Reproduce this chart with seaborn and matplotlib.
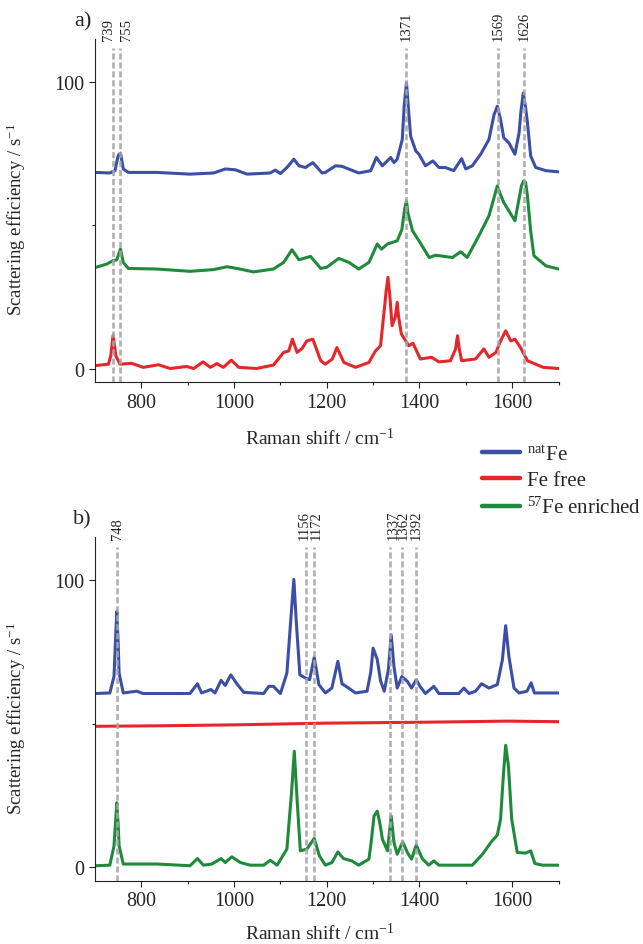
import pandas as pd
import matplotlib
matplotlib.use('Agg')
import matplotlib.pyplot as plt
import seaborn as sns

sns.set_style('ticks')
plt.rcParams['font.family'] = ['Liberation Serif', 'DejaVu Serif']
plt.rcParams['mathtext.fontset'] = 'custom'
plt.rcParams['mathtext.rm'] = 'Liberation Serif'
plt.rcParams['mathtext.it'] = 'Liberation Serif:italic'

# spectra: (Raman shift / cm-1, scattering efficiency)
a_nat = [(700, 68.4), (732, 68.2), (743, 69.0), (750, 74.2), (755, 75.1), (761, 69.6), (772, 68.4),
         (833, 68.4), (905, 67.8), (956, 68.2), (981, 69.6), (1003, 69.3), (1028, 67.8), (1078, 68.2),
         (1089, 69.2), (1100, 68.0), (1114, 70.1), (1129, 73.0), (1140, 70.7), (1154, 70.1), (1170, 71.8),
         (1190, 68.2), (1197, 68.4), (1219, 70.7), (1233, 70.5), (1269, 68.2), (1295, 69.0), (1307, 73.6),
         (1320, 70.7), (1338, 73.6), (1345, 71.8), (1352, 73.0), (1363, 79.9), (1367, 91.4), (1372, 99.6),
         (1377, 89.1), (1381, 81.0), (1392, 75.9), (1399, 74.7), (1413, 70.7), (1429, 72.4), (1442, 70.1),
         (1456, 70.1), (1474, 69.0), (1491, 73.2), (1500, 69.6), (1514, 70.7), (1532, 74.7), (1550, 79.9),
         (1561, 88.5), (1568, 91.4), (1575, 86.8), (1582, 80.4), (1593, 78.7), (1606, 74.7), (1615, 82.2),
         (1619, 89.7), (1624, 96.0), (1629, 91.0), (1633, 85.7), (1640, 74.1), (1651, 70.1), (1673, 69.0),
         (1700, 68.6)]
a_free = [(700, 1.2), (729, 1.7), (734, 4.6), (739, 11.7), (745, 4.6), (754, 1.7), (779, 2.0), (804, 0.6),
          (837, 1.5), (862, 0.2), (898, 0.9), (913, 0.2), (933, 2.5), (949, 0.6), (963, 1.9), (977, 0.6),
          (994, 3.1), (1010, 0.6), (1049, 0.2), (1085, 1.4), (1107, 5.8), (1118, 6.3), (1126, 10.4),
          (1136, 5.8), (1147, 7.2), (1157, 9.8), (1170, 10.4), (1187, 2.9), (1197, 1.7), (1212, 3.5),
          (1222, 7.5), (1237, 2.3), (1262, 0.6), (1291, 2.3), (1305, 6.3), (1316, 8.1), (1325, 22.0),
          (1328, 26.9), (1332, 31.9), (1336, 25.7), (1341, 15.1), (1348, 18.2), (1352, 23.2), (1355, 18.2),
          (1361, 12.2), (1377, 8.1), (1386, 9.0), (1402, 3.5), (1426, 4.1), (1442, 2.5), (1467, 2.9),
          (1478, 7.0), (1482, 11.6), (1486, 7.0), (1491, 2.9), (1521, 3.5), (1539, 7.0), (1550, 4.1),
          (1565, 5.8), (1575, 9.8), (1586, 13.3), (1597, 9.8), (1606, 10.4), (1618, 7.5), (1633, 2.9),
          (1667, 0.6), (1700, 0.2)]
a_57 = [(700, 35.3), (725, 36.5), (739, 37.7), (747, 38.0), (755, 41.7), (761, 37.1), (772, 35.0),
        (833, 34.8), (905, 34.0), (956, 34.6), (985, 35.6), (1006, 35.0), (1042, 33.8), (1085, 34.8),
        (1107, 37.1), (1125, 41.5), (1140, 38.0), (1165, 39.2), (1187, 35.0), (1200, 35.4), (1226, 38.5),
        (1248, 37.1), (1269, 34.8), (1291, 37.1), (1309, 43.5), (1318, 41.7), (1331, 43.5), (1352, 44.6),
        (1362, 48.5), (1368, 55.6), (1372, 58.5), (1375, 54.4), (1385, 48.1), (1399, 44.6), (1421, 38.8),
        (1435, 39.6), (1471, 38.8), (1489, 40.8), (1503, 38.8), (1528, 46.3), (1550, 53.3), (1565, 62.0),
        (1568, 63.7), (1573, 61.4), (1582, 57.9), (1593, 55.0), (1606, 51.6), (1616, 60.2), (1620, 63.7),
        (1625, 65.5), (1629, 64.9), (1633, 60.2), (1640, 48.0), (1647, 39.4), (1673, 35.9), (1700, 34.8)]

b_nat = [(700, 60.5), (732, 60.7), (741, 66.4), (744, 78.0), (747, 89.0), (750, 78.0), (752, 67.6),
         (761, 60.7), (790, 61.3), (804, 60.5), (905, 60.5), (921, 63.9), (930, 60.7), (950, 61.9),
         (959, 60.7), (972, 65.1), (981, 63.3), (993, 67.0), (1006, 63.9), (1021, 60.9), (1064, 60.5),
         (1075, 63.0), (1085, 63.0), (1100, 60.5), (1114, 67.6), (1124, 89.6), (1129, 100.2), (1134, 86.2),
         (1142, 67.0), (1154, 65.9), (1163, 65.3), (1173, 73.1), (1183, 63.6), (1197, 60.7), (1211, 62.4),
         (1224, 71.7), (1233, 63.9), (1247, 62.4), (1262, 60.7), (1287, 61.3), (1295, 68.0), (1300, 76.3),
         (1309, 72.3), (1316, 65.0), (1324, 61.3), (1333, 68.8), (1339, 80.9), (1345, 69.9), (1352, 62.4),
         (1362, 66.4), (1374, 64.7), (1383, 62.4), (1393, 65.3), (1402, 62.8), (1413, 60.5), (1431, 63.0),
         (1442, 60.5), (1485, 60.5), (1496, 62.4), (1507, 60.5), (1521, 61.3), (1534, 63.9), (1550, 62.4),
         (1568, 63.6), (1579, 72.3), (1586, 84.1), (1593, 73.4), (1604, 62.4), (1615, 60.7), (1632, 61.3),
         (1641, 64.2), (1648, 60.7), (1700, 60.7)]
b_free = [(700, 49.1), (850, 49.3), (1000, 49.6), (1200, 50.2), (1400, 50.5), (1590, 50.9), (1700, 50.7)]
b_57 = [(700, 0.6), (732, 0.8), (741, 7.5), (744, 15.0), (747, 22.5), (750, 15.0), (752, 7.5), (761, 1.2),
        (834, 1.2), (905, 0.6), (921, 3.1), (934, 0.8), (952, 1.2), (972, 3.1), (981, 1.7), (995, 3.7),
        (1014, 1.7), (1035, 0.8), (1064, 0.8), (1078, 2.5), (1093, 0.8), (1114, 6.4), (1124, 26.0),
        (1130, 40.4), (1136, 23.7), (1143, 5.8), (1157, 6.4), (1173, 10.1), (1184, 4.1), (1197, 0.8),
        (1211, 1.7), (1224, 5.4), (1236, 3.1), (1254, 2.3), (1269, 0.8), (1291, 2.9), (1296, 9.0),
        (1302, 17.9), (1309, 19.6), (1315, 15.0), (1320, 9.9), (1331, 5.8), (1339, 17.9), (1345, 8.7),
        (1352, 4.6), (1364, 8.9), (1374, 5.2), (1383, 2.9), (1393, 7.8), (1406, 3.1), (1420, 0.8),
        (1431, 2.3), (1442, 0.8), (1514, 0.8), (1536, 4.6), (1554, 8.7), (1568, 11.3), (1575, 16.8),
        (1581, 31.9), (1586, 42.5), (1592, 35.3), (1599, 16.8), (1611, 5.2), (1629, 5.0), (1640, 5.8),
        (1649, 1.4), (1665, 0.8), (1700, 0.8)]

# marked bands (cm-1)
a_marks = [739, 755, 1371, 1569, 1626]
b_marks = [748, 1156, 1172, 1337, 1362, 1392]

labels = [r'$^{\mathrm{nat}}$Fe', 'Fe free', r'$^{57}$Fe enriched']
colors = ['#3c4fa6', '#e5262b', '#1f8a3b']


def make_df(nat, free, fe57):
    parts = []
    for name, pts in zip(labels, [nat, free, fe57]):
        d = pd.DataFrame(pts, columns=['shift', 'eff'])
        d['sample'] = name
        parts.append(d)
    return pd.concat(parts, ignore_index=True)


df_a = make_df(a_nat, a_free, a_57)
df_b = make_df(b_nat, b_free, b_57)

fig = plt.figure(figsize=(6.43, 9.45), dpi=100)
W, H = 643, 945
ax_a = fig.add_axes([95 / W, (H - 383.3) / H, 463.5 / W, 343.3 / H])
ax_b = fig.add_axes([95 / W, (H - 881.7) / H, 463.5 / W, 343.3 / H])

nudges_a = {739: -3, 755: 4.5}
nudges_b = {1156: -1.5, 1172: 1.5, 1337: 2, 1362: 1}

for ax, df, marks, nudges, tag, xl in [(ax_a, df_a, a_marks, nudges_a, 'a)', -0.13),
                                        (ax_b, df_b, b_marks, nudges_b, 'b)', -0.12)]:
    sns.lineplot(data=df, x='shift', y='eff', hue='sample', hue_order=labels,
                 palette=colors, estimator=None, linewidth=2.2, ax=ax, legend=(ax is ax_a))
    ax.vlines(marks, -4.6, 111.6, colors='#a6a6a6', linestyles=(0, (2.3, 1.1)),
              linewidth=1.9, zorder=5, alpha=0.9)
    for m in marks:
        ax.annotate(str(m), xy=(m, 1), xycoords=('data', 'axes fraction'),
                    xytext=(nudges.get(m, 0), -1), textcoords='offset points',
                    rotation=90, ha='center', va='bottom', fontsize=10.5, color='#222222')
    ax.set_xlim(700, 1700)
    ax.set_ylim(-4.6, 114.8)
    ax.set_xticks([800, 1000, 1200, 1400, 1600])
    ax.set_xticks([900, 1100, 1300, 1500, 1700], minor=True)
    ax.set_yticks([0, 100])
    ax.set_yticks([50], minor=True)
    ax.tick_params(which='major', length=4.1, width=0.8, labelsize=14.5, pad=3.5, color='#222222')
    ax.tick_params(which='minor', length=2.4, width=0.8, color='#222222')
    for s in ['top', 'right']:
        ax.spines[s].set_visible(False)
    for s in ['left', 'bottom']:
        ax.spines[s].set_linewidth(0.8)
        ax.spines[s].set_color('#222222')
    ax.set_xlabel(r'Raman shift / cm$^{-1}$', fontsize=14)
    ax.set_ylabel(r'Scattering efficiency / s$^{-1}$', fontsize=13.5)
    ax.yaxis.set_label_coords(-0.145, 0.476)
    ax.xaxis.set_label_coords(0.485, xl)
    ax.text(-0.008, 1.054, tag, transform=ax.transAxes, fontsize=16, ha='right', va='center')

handles, leg_labels = ax_a.get_legend_handles_labels()
ax_a.get_legend().remove()
leg = fig.legend(handles, leg_labels, loc='upper left', bbox_to_anchor=(482 / W, 1 - 446 / H),
                 frameon=False, fontsize=15, handlelength=1.8, handletextpad=0.35,
                 labelspacing=0.3, borderpad=0, borderaxespad=0)
for ln in leg.get_lines():
    ln.set_linewidth(3.2)

fig.savefig('out.png', dpi=100)
